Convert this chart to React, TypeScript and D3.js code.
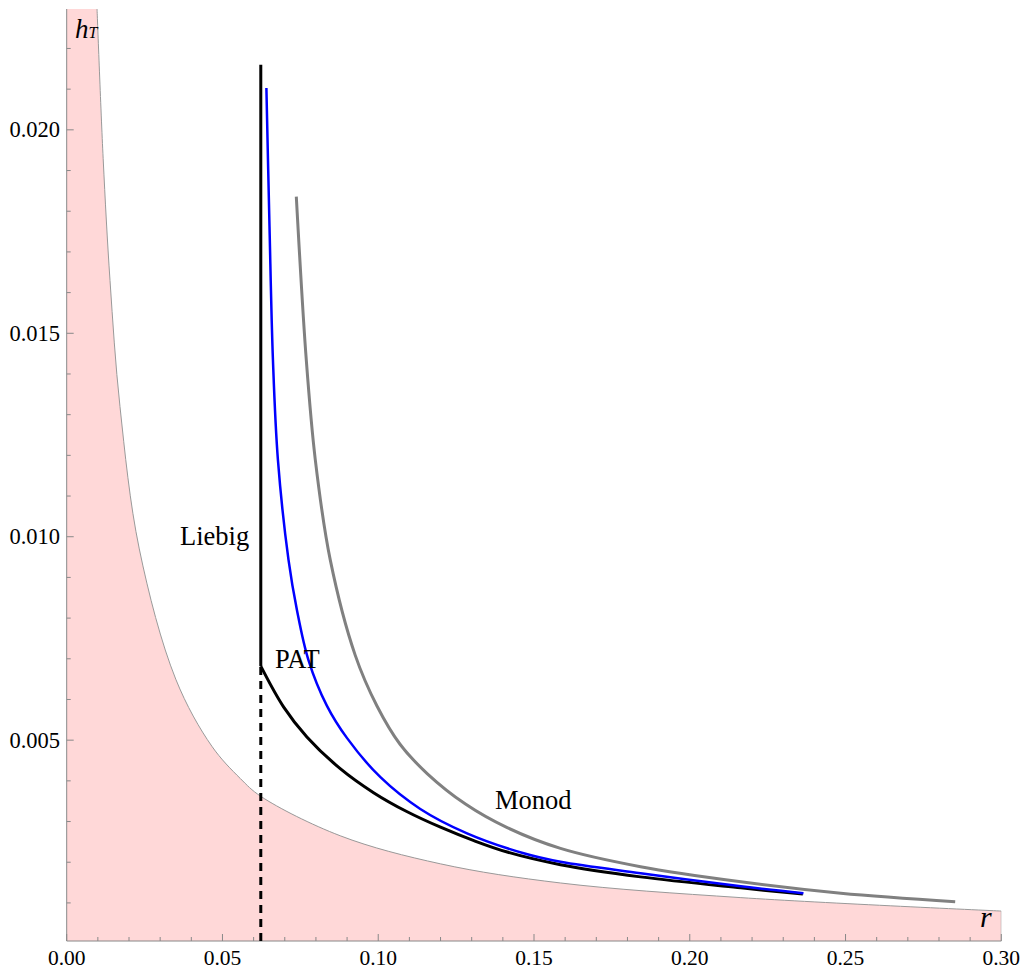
import React from 'react';
import { scaleLinear, line, area, range, curveCatmullRom } from 'd3';

// values
const xTicks = [0, 0.05, 0.1, 0.15, 0.2, 0.25, 0.3];
const yTicks = [0.005, 0.01, 0.015, 0.02];

// threshold curve bounding the shaded region
const regionR = [0.00974, 0.0117, 0.0139, 0.0171, 0.0233, 0.035, 0.0466, 0.0557, 0.0623, 0.0878, 0.12, 0.1585, 0.2164, 0.3];
const regionH = [0.02297, 0.0193, 0.0163, 0.0132, 0.0097, 0.0065, 0.00485, 0.00406, 0.00362, 0.00265, 0.00196, 0.00149, 0.00113, 0.0008];

// Liebig: vertical segment
const liebigR = 0.0623;
const liebigTop = 0.0216;

// PAT curve (black)
const patR = [0.0623, 0.0696, 0.0771, 0.0878, 0.0985, 0.1093, 0.12, 0.1307, 0.1414, 0.1585, 0.1842, 0.2164, 0.2363];
const patH = [0.00682, 0.00582, 0.00508, 0.0043, 0.00371, 0.00324, 0.00286, 0.00253, 0.00225, 0.00194, 0.00164, 0.00137, 0.00122];

// blue curve
const blueR = [0.0641, 0.0651, 0.0662, 0.0678, 0.0712, 0.0739, 0.0776, 0.0835, 0.09, 0.1007, 0.1135, 0.1285, 0.1467, 0.1585, 0.1842, 0.2164, 0.2365];
const blueH = [0.02103, 0.01762, 0.01435, 0.01189, 0.00943, 0.0082, 0.00697, 0.00585, 0.00505, 0.00409, 0.00331, 0.00271, 0.00222, 0.00201, 0.00173, 0.00141, 0.00124];

// Monod curve (gray)
const monodR = [0.0737, 0.0769, 0.0798, 0.0846, 0.0926, 0.0996, 0.107, 0.1157, 0.128, 0.1414, 0.1585, 0.1842, 0.2164, 0.2485, 0.2852];
const monodH = [0.01836, 0.01435, 0.01189, 0.00943, 0.00709, 0.00584, 0.0049, 0.00418, 0.00343, 0.00285, 0.00234, 0.00189, 0.00152, 0.00124, 0.00103];

const W = 1026;
const H = 972;
const left = 66.7, right = 1001.3, top = 9, bottom = 941;
const font = '"Liberation Serif", "Times New Roman", serif';

type Pt = { r: number; h: number };

export default function App() {
  const x = scaleLinear().domain([0, 0.3]).range([left, right]);
  const y = scaleLinear().domain([0.000064, 0.02297]).range([bottom, top]);

  const [y0, y1] = y.domain();
  const zip = (rs: number[], hs: number[]): Pt[] => rs.map((r, i) => ({ r, h: hs[i] }));

  const lineFn = line<Pt>()
    .x(d => x(d.r))
    .y(d => y(d.h))
    .curve(curveCatmullRom.alpha(0.5));

  const regionPts = zip(regionR, regionH);
  const areaFn = area<Pt>()
    .x(d => x(d.r))
    .y0(y(y0))
    .y1(d => y(d.h))
    .curve(curveCatmullRom.alpha(0.5));

  // region: full height up to where the threshold curve enters the plot
  const regionPath =
    `M${x(0)},${y(y0)}L${x(0)},${y(y1)}L${x(regionR[0])},${y(y1)}` +
    (areaFn(regionPts) || '').replace(/^M/, 'L');

  const minorX = range(0, 0.3001, 0.01).filter(v => Math.abs(v * 20 - Math.round(v * 20)) > 1e-6);
  const minorY = range(0.001, 0.0226, 0.001).filter(v => Math.abs(v * 200 - Math.round(v * 200)) > 1e-6);

  const axisColor = '#888';

  return (
    <svg width={W} height={H} style={{ position: 'absolute', left: 0, top: 0 }}>
      <defs>
        <clipPath id="plot">
          <rect x={left} y={top} width={right - left} height={bottom - top} />
        </clipPath>
      </defs>
      <g clipPath="url(#plot)">
        <path d={regionPath} fill="#ffd8d8" stroke="none" />
        <path d={lineFn(regionPts) || ''} fill="none" stroke="#999" strokeWidth={1} />
        <line x1={x(0.3)} x2={x(0.3)} y1={y(regionH[regionH.length - 1])} y2={y(y0)} stroke="#999" strokeWidth={1} />
      </g>

      {/* axes */}
      <line x1={left} x2={left} y1={top} y2={bottom} stroke={axisColor} strokeWidth={1} />
      <line x1={left} x2={right} y1={bottom} y2={bottom} stroke={axisColor} strokeWidth={1} />
      {xTicks.map(t => (
        <g key={'xt' + t}>
          <line x1={x(t)} x2={x(t)} y1={bottom} y2={bottom - 7} stroke={axisColor} />
          <text x={x(t)} y={965} textAnchor="middle" fontFamily={font} fontSize={21.5} fill="#000">
            {t.toFixed(2)}
          </text>
        </g>
      ))}
      {minorX.map(t => (
        <line key={'xm' + t} x1={x(t)} x2={x(t)} y1={bottom} y2={bottom - 4} stroke={axisColor} />
      ))}
      {yTicks.map(t => (
        <g key={'yt' + t}>
          <line x1={left} x2={left + 7} y1={y(t)} y2={y(t)} stroke={axisColor} />
          <text x={60} y={y(t) + 7.5} textAnchor="end" fontFamily={font} fontSize={22.5} fill="#000">
            {t.toFixed(3)}
          </text>
        </g>
      ))}
      {minorY.map(t => (
        <line key={'ym' + t} x1={left} x2={left + 4} y1={y(t)} y2={y(t)} stroke={axisColor} />
      ))}

      {/* curves */}
      <line x1={x(liebigR)} x2={x(liebigR)} y1={y(y0)} y2={y(patH[0])} stroke="#000" strokeWidth={3} strokeDasharray="8,6" />
      <line x1={x(liebigR)} x2={x(liebigR)} y1={y(patH[0])} y2={y(liebigTop)} stroke="#000" strokeWidth={3} />
      <path d={lineFn(zip(monodR, monodH)) || ''} fill="none" stroke="#808080" strokeWidth={3} />
      <path d={lineFn(zip(patR, patH)) || ''} fill="none" stroke="#000" strokeWidth={3} />
      <path d={lineFn(zip(blueR, blueH)) || ''} fill="none" stroke="#0000ff" strokeWidth={2.5} />

      {/* labels */}
      <text x={180} y={545} fontFamily={font} fontSize={26.5}>Liebig</text>
      <text x={275} y={668} fontFamily={font} fontSize={26.5}>PAT</text>
      <text x={495} y={809} fontFamily={font} fontSize={26.5}>Monod</text>
      <text x={75} y={38} fontFamily={font} fontSize={27} fontStyle="italic">
        h<tspan fontSize={16} dy={0}>T</tspan>
      </text>
      <text x={980} y={927} fontFamily={font} fontSize={30} fontStyle="italic">r</text>
    </svg>
  );
}
